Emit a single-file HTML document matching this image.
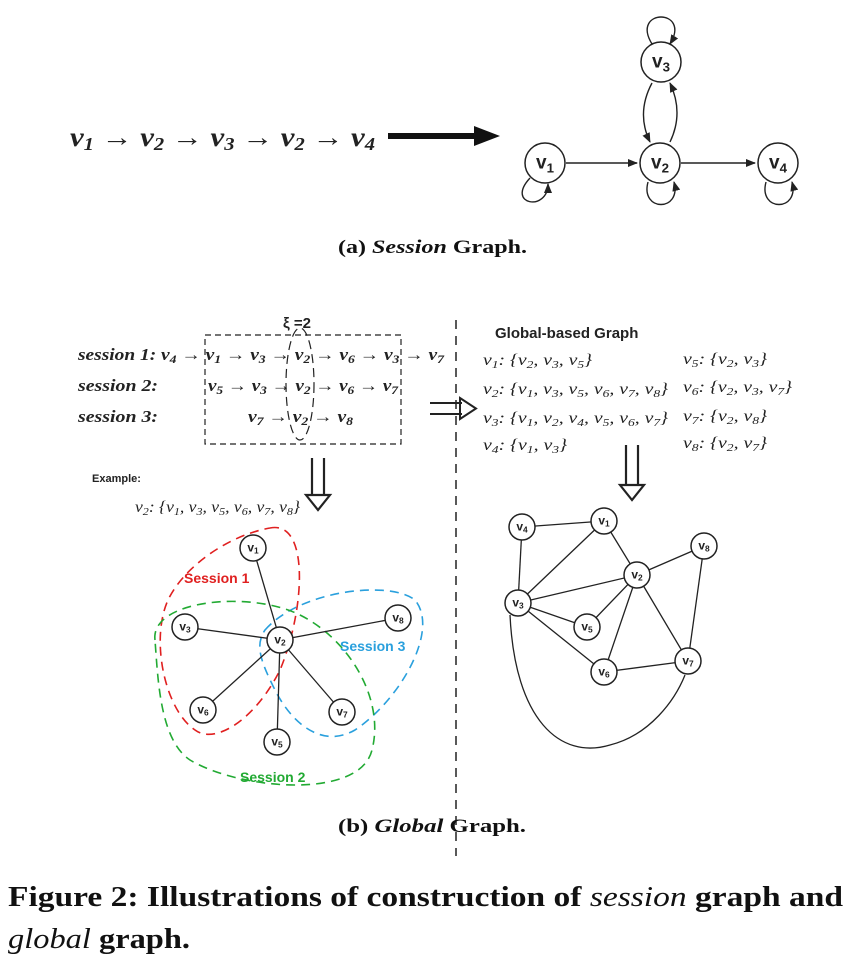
<!DOCTYPE html>
<html><head><meta charset="utf-8"><style>
html,body{margin:0;padding:0;background:#fff;width:854px;height:964px;overflow:hidden}
svg{display:block}
.ser{font-family:"Liberation Serif",serif;font-style:italic;font-weight:bold;fill:#222}
.cap{font-family:"Liberation Serif",serif;font-weight:bold;fill:#111}
.sans{font-family:"Liberation Sans",sans-serif;font-weight:bold;fill:#222}
</style></head><body>
<svg id="fig" width="854" height="964" viewBox="0 0 854 964">
<defs>
<marker id="ah" markerWidth="10" markerHeight="10" refX="9" refY="5" orient="auto" markerUnits="userSpaceOnUse"><path d="M0,1 L10,5 L0,9 z" fill="#222"/></marker>
</defs>
<!-- (a) -->
<text class="ser" x="70" y="146" font-size="27" textLength="305" lengthAdjust="spacingAndGlyphs">v<tspan baseline-shift="-20%" font-size="18">1</tspan> → v<tspan baseline-shift="-20%" font-size="18">2</tspan> → v<tspan baseline-shift="-20%" font-size="18">3</tspan> → v<tspan baseline-shift="-20%" font-size="18">2</tspan> → v<tspan baseline-shift="-20%" font-size="18">4</tspan></text>
<line x1="388" y1="136" x2="478" y2="136" stroke="#111" stroke-width="6"/>
<path d="M474,126 L500,136 L474,146 z" fill="#111"/>
<g fill="none" stroke="#222" stroke-width="1.4">
<path d="M566,163 L637,163" marker-end="url(#ah)"/>
<path d="M681,163 L755,163" marker-end="url(#ah)"/>
<path d="M652,83 Q636,113 650,142" marker-end="url(#ah)"/>
<path d="M670,142 Q684,113 670,83" marker-end="url(#ah)"/>
<path d="M652,44 C630,8 692,8 670,44" marker-end="url(#ah)"/>
<path d="M530,178 C505,205 548,212 548,184" marker-end="url(#ah)"/>
<path d="M648,182 C640,212 682,212 674,182" marker-end="url(#ah)"/>
<path d="M766,182 C758,212 800,212 792,182" marker-end="url(#ah)"/>
</g>
<g id="sg"></g>
<text class="cap" x="338" y="253" font-size="19" textLength="189" lengthAdjust="spacingAndGlyphs">(a) <tspan font-style="italic">Session</tspan> Graph.</text>

<!-- (b) -->
<line x1="456" y1="320" x2="456" y2="856" stroke="#222" stroke-width="1.5" stroke-dasharray="9,7"/>
<text class="sans" x="283" y="328" font-size="15">ξ =2</text>
<rect x="205" y="335" width="196" height="109" fill="none" stroke="#222" stroke-width="1.2" stroke-dasharray="6,4"/>
<ellipse cx="300" cy="384" rx="14" ry="56" fill="none" stroke="#222" stroke-width="1.2" stroke-dasharray="9,5"/>
<g class="ser" font-size="17">
<text x="78" y="360" textLength="366" lengthAdjust="spacingAndGlyphs">session 1: v<tspan baseline-shift="-25%" font-size="12">4</tspan> → v<tspan baseline-shift="-25%" font-size="12">1</tspan> → v<tspan baseline-shift="-25%" font-size="12">3</tspan> → v<tspan baseline-shift="-25%" font-size="12">2</tspan> → v<tspan baseline-shift="-25%" font-size="12">6</tspan> → v<tspan baseline-shift="-25%" font-size="12">3</tspan> → v<tspan baseline-shift="-25%" font-size="12">7</tspan></text>
<text x="78" y="391" textLength="80" lengthAdjust="spacingAndGlyphs">session 2:</text>
<text x="208" y="391" textLength="190" lengthAdjust="spacingAndGlyphs">v<tspan baseline-shift="-25%" font-size="12">5</tspan> → v<tspan baseline-shift="-25%" font-size="12">3</tspan> → v<tspan baseline-shift="-25%" font-size="12">2</tspan> → v<tspan baseline-shift="-25%" font-size="12">6</tspan> → v<tspan baseline-shift="-25%" font-size="12">7</tspan></text>
<text x="78" y="422" textLength="80" lengthAdjust="spacingAndGlyphs">session 3:</text>
<text x="248" y="422" textLength="105" lengthAdjust="spacingAndGlyphs">v<tspan baseline-shift="-25%" font-size="12">7</tspan> → v<tspan baseline-shift="-25%" font-size="12">2</tspan> → v<tspan baseline-shift="-25%" font-size="12">8</tspan></text>
</g>
<g fill="none" stroke="#222" stroke-width="2.2">
<path d="M312,458 V495 M324,458 V495 M306,495 L318,510 L330,495 Z" fill="#fff"/>
</g>
<text class="sans" x="92" y="482" font-size="11">Example:</text>
<text class="ser" x="135" y="512" font-size="16" textLength="165" lengthAdjust="spacingAndGlyphs" style="font-weight:normal">v<tspan baseline-shift="-25%" font-size="11">2</tspan>: {v<tspan baseline-shift="-25%" font-size="11">1</tspan>, v<tspan baseline-shift="-25%" font-size="11">3</tspan>, v<tspan baseline-shift="-25%" font-size="11">5</tspan>, v<tspan baseline-shift="-25%" font-size="11">6</tspan>, v<tspan baseline-shift="-25%" font-size="11">7</tspan>, v<tspan baseline-shift="-25%" font-size="11">8</tspan>}</text>

<g fill="none" stroke-width="1.6" stroke-dasharray="9,6">
<path d="M270,528 C310,520 305,610 280,670 C255,720 215,745 195,730 C165,710 150,640 168,600 C185,565 230,535 270,528 Z" stroke="#e02020"/>
<path d="M265,630 C300,590 390,580 415,600 C440,630 400,700 355,730 C320,750 290,720 275,690 C260,660 255,645 265,630 Z" stroke="#2aa0dd"/>
<path d="M155,640 C150,600 250,590 300,615 C350,640 385,700 372,750 C360,800 240,790 190,760 C160,740 158,680 155,640 Z" stroke="#22aa33"/>
</g>
<text class="sans" x="184" y="583" font-size="14" style="fill:#e02020">Session 1</text>
<text class="sans" x="340" y="651" font-size="14" style="fill:#2aa0dd">Session 3</text>
<text class="sans" x="240" y="782" font-size="14" style="fill:#22aa33">Session 2</text>
<g id="lg"></g>

<text class="sans" x="495" y="338" font-size="15">Global-based Graph</text>
<g class="ser" font-size="16" style="font-weight:normal" id="adj"></g>
<g fill="#fff" stroke="#222" stroke-width="2">
<path d="M430,403 H462 M430,414 H462 M460,398 L476,408.5 L460,419 Z"/>
</g>
<g fill="#fff" stroke="#222" stroke-width="2.2">
<path d="M626,445 V485 M638,445 V485 M620,485 L632,500 L644,485 Z"/>
</g>
<g id="rg"></g>

<text class="cap" x="338" y="832" font-size="19" textLength="188" lengthAdjust="spacingAndGlyphs">(b) <tspan font-style="italic">Global</tspan> Graph.</text>
<text class="cap" x="8" y="906" font-size="28" textLength="835" lengthAdjust="spacingAndGlyphs">Figure 2: Illustrations of construction of <tspan font-style="italic" font-weight="normal">session</tspan> graph and</text>
<text class="cap" x="8" y="948" font-size="28" textLength="182" lengthAdjust="spacingAndGlyphs"><tspan font-style="italic" font-weight="normal">global</tspan> graph.</text>
</svg>
<script>
const NS="http://www.w3.org/2000/svg";
function mk(tag,attrs,parent){const e=document.createElementNS(NS,tag);for(const k in attrs)e.setAttribute(k,attrs[k]);parent.appendChild(e);return e;}
function node(g,x,y,r,lab,fs){
  const c=mk('circle',{cx:x,cy:y,r:r,fill:'#fff',stroke:'#222','stroke-width':1.5},g);
  
  
  const t=mk('text',{x:x,y:y+fs*0.3,'font-size':fs,'font-family':'Liberation Sans, sans-serif','font-weight':'bold',fill:'#222','text-anchor':'middle'},g);
  
  
  t.innerHTML='v<tspan baseline-shift="-30%" font-size="'+(fs*0.7)+'">'+lab+'</tspan>';
}
const sg=document.getElementById('sg');
[[661,62,'3'],[545,163,'1'],[660,163,'2'],[778,163,'4']].forEach(n=>node(sg,n[0],n[1],20,n[2],19));
const lg=document.getElementById('lg');
const L={1:[253,548],3:[185,627],2:[280,640],8:[398,618],6:[203,710],7:[342,712],5:[277,742]};
[[1,2],[3,2],[8,2],[6,2],[7,2],[5,2]].forEach(e=>{const l=mk('line',{x1:L[e[0]][0],y1:L[e[0]][1],x2:L[e[1]][0],y2:L[e[1]][1],stroke:'#222','stroke-width':1.3},lg);

});
for(const k in L)node(lg,L[k][0],L[k][1],13,k,12);
const rg=document.getElementById('rg');
const R={4:[522,527],1:[604,521],8:[704,546],2:[637,575],3:[518,603],5:[587,627],6:[604,672],7:[688,661]};
[[4,1],[4,3],[1,2],[1,3],[3,2],[3,5],[3,6],[2,5],[2,6],[2,7],[2,8],[8,7],[6,7]].forEach(e=>{const l=mk('line',{x1:R[e[0]][0],y1:R[e[0]][1],x2:R[e[1]][0],y2:R[e[1]][1],stroke:'#222','stroke-width':1.3},rg);

});
const cv=mk('path',{d:'M510,615 C515,720 560,760 610,745 C650,735 675,700 685,675',fill:'none',stroke:'#222','stroke-width':1.3},rg);


for(const k in R)node(rg,R[k][0],R[k][1],13,k,12);
const adj=document.getElementById('adj');
const rows=[[483,365,'1',['2','3','5'],109],[483,394,'2',['1','3','5','6','7','8'],185],[483,423,'3',['1','2','4','5','6','7'],185],[483,450,'4',['1','3'],84],
[683,364,'5',['2','3'],84],[683,392,'6',['2','3','7'],109],[683,421,'7',['2','8'],84],[683,448,'8',['2','7'],84]];
rows.forEach(r=>{const t=mk('text',{x:r[0],y:r[1],textLength:r[4],lengthAdjust:'spacingAndGlyphs'},adj);


const sub=s=>'<tspan baseline-shift="-25%" font-size="11">'+s+'</tspan>';
let h='v'+sub(r[2])+': {';
r[3].forEach((v,i)=>{h+=(i?', ':'')+'v'+sub(v);});
h+='}';t.innerHTML=h;});
</script>
</body></html>
